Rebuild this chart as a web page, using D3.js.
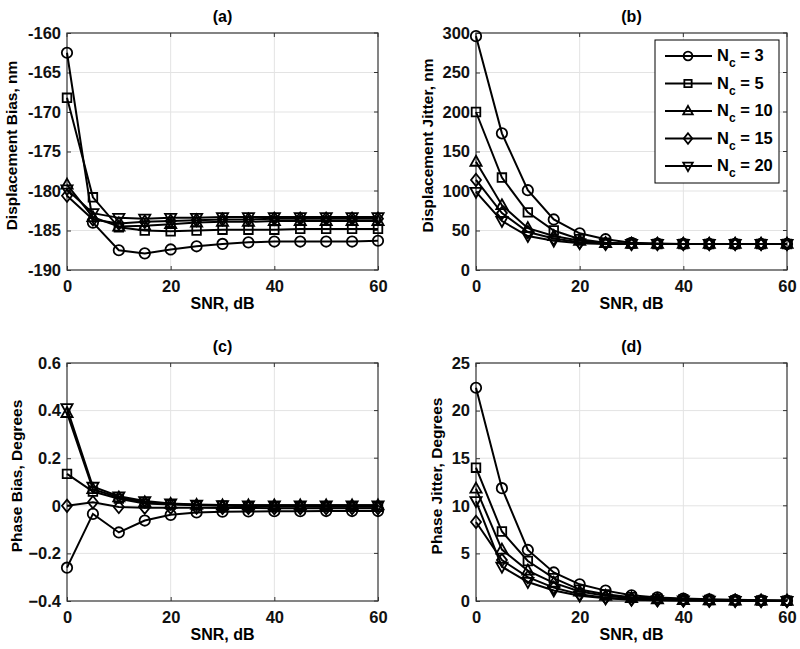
<!DOCTYPE html>
<html><head><meta charset="utf-8">
<script src="https://cdn.jsdelivr.net/npm/d3@7"></script>
<style>body{margin:0;background:#fff}svg{font-family:"Liberation Sans",Arial,sans-serif;font-weight:bold}</style>
</head><body><svg id="c" width="800" height="649"></svg>
<script>
const snr = [0,5,10,15,20,25,30,35,40,45,50,55,60];
const ncLabels = ["3","5","10","15","20"];
const markers = ["circle","square","triangle","diamond","triangleDown"];

const biasDisp = [
 [-162.5,-184.0,-187.5,-187.9,-187.4,-187.0,-186.7,-186.5,-186.4,-186.4,-186.4,-186.4,-186.3],
 [-168.2,-180.8,-184.6,-185.0,-185.1,-185.0,-184.9,-184.9,-184.9,-184.8,-184.8,-184.8,-184.8],
 [-179.2,-183.3,-184.5,-184.4,-184.2,-184.0,-183.9,-183.9,-183.8,-183.8,-183.8,-183.8,-183.8],
 [-180.6,-183.6,-184.1,-183.9,-183.8,-183.7,-183.6,-183.6,-183.5,-183.5,-183.5,-183.5,-183.5],
 [-179.8,-182.8,-183.4,-183.5,-183.4,-183.4,-183.3,-183.3,-183.3,-183.3,-183.3,-183.3,-183.3]
];
const jitterDisp = [
 [296,173,101,64,46.5,39,34.5,33.5,33,33,33,33,33],
 [200,117,73,50,39,34.5,33.5,33,33,33,33,33,33],
 [137,82,53,43,37,34,33,33,33,33,33,33,33],
 [114,72,48,40,35,33.5,33,33,33,33,33,33,33],
 [99,62,43,37,34,33,33,33,33,33,33,33,33]
];
const biasPhase = [
 [-0.26,-0.034,-0.112,-0.062,-0.038,-0.028,-0.025,-0.024,-0.023,-0.023,-0.022,-0.022,-0.022],
 [0.134,0.06,0.03,0.01,0.005,0.002,0.0,-0.002,-0.003,-0.003,-0.004,-0.004,-0.004],
 [0.39,0.07,0.035,0.015,0.008,0.004,0.002,0.002,0.002,0.002,0.002,0.002,0.002],
 [0.0,0.015,-0.005,-0.008,-0.008,-0.008,-0.009,-0.009,-0.01,-0.01,-0.01,-0.01,-0.01],
 [0.41,0.08,0.04,0.02,0.01,0.005,0.003,0.002,0.002,0.002,0.002,0.002,0.002]
];
const jitterPhase = [
 [22.4,11.85,5.36,3.0,1.75,1.09,0.6,0.38,0.25,0.18,0.12,0.08,0.05],
 [14.0,7.3,4.2,2.4,1.2,0.7,0.4,0.25,0.15,0.1,0.07,0.05,0.03],
 [11.8,5.4,3.2,1.9,1.0,0.55,0.3,0.18,0.1,0.07,0.05,0.03,0.02],
 [8.3,4.3,2.5,1.4,0.7,0.35,0.18,0.1,0.06,0.04,0.03,0.02,0.01],
 [10.5,3.6,2.0,1.1,0.55,0.28,0.14,0.08,0.05,0.03,0.02,0.01,0.01]
];

const panels = [
 {title:"(a)", ylabel:"Displacement Bias, nm", data:biasDisp, ydom:[-190,-160], yticks:[-190,-185,-180,-175,-170,-165,-160], fmt:d=>d, x0:67,x1:378,y0:33,y1:270, ylx:12, legend:false},
 {title:"(b)", ylabel:"Displacement Jitter, nm", data:jitterDisp, ydom:[0,300], yticks:[0,50,100,150,200,250,300], fmt:d=>d, x0:476,x1:787,y0:33,y1:270, ylx:428, legend:true},
 {title:"(c)", ylabel:"Phase Bias, Degrees", data:biasPhase, ydom:[-0.4,0.6], yticks:[-0.4,-0.2,0,0.2,0.4,0.6], fmt:d=>d===0?"0":d3.format(".1f")(d), x0:67,x1:378,y0:363,y1:601, ylx:17, legend:false},
 {title:"(d)", ylabel:"Phase Jitter, Degrees", data:jitterPhase, ydom:[0,25], yticks:[0,5,10,15,20,25], fmt:d=>d, x0:476,x1:787,y0:363,y1:601, ylx:437, legend:false}
];

function markerPath(type, sc){
  sc = sc||1;
  const r=5.2*sc;
  switch(type){
    case "circle": return `M${r},0A${r},${r} 0 1,1 ${-r},0A${r},${r} 0 1,1 ${r},0Z`;
    case "square": {const s=4.3*sc; return `M${-s},${-s}H${s}V${s}H${-s}Z`;}
    case "triangle": return `M0,${-6*sc}L${5.6*sc},${4*sc}L${-5.6*sc},${4*sc}Z`;
    case "triangleDown": return `M0,${6*sc}L${5.6*sc},${-4*sc}L${-5.6*sc},${-4*sc}Z`;
    case "diamond": return `M0,${-6.2*sc}L${5*sc},0L0,${6.2*sc}L${-5*sc},0Z`;
  }
}

const svg = d3.select("#c");
panels.forEach(p=>{
  const x = d3.scaleLinear().domain([0,60]).range([p.x0,p.x1]);
  const y = d3.scaleLinear().domain(p.ydom).range([p.y1,p.y0]);
  const g = svg.append("g");
  [20,40].forEach(t=>g.append("line").attr("x1",x(t)).attr("x2",x(t)).attr("y1",p.y0).attr("y2",p.y1).attr("stroke","#e3e3e3").attr("stroke-width",1));
  p.yticks.slice(1,-1).forEach(t=>g.append("line").attr("x1",p.x0).attr("x2",p.x1).attr("y1",y(t)).attr("y2",y(t)).attr("stroke","#e3e3e3").attr("stroke-width",1));
  const ax = d3.axisBottom(x).tickValues([0,20,40,60]).tickSize(-4).tickPadding(10);
  const axg = g.append("g").attr("transform",`translate(0,${p.y1})`).call(ax);
  const ay = d3.axisLeft(y).tickValues(p.yticks).tickFormat(p.fmt).tickSize(-4).tickPadding(6);
  const ayg = g.append("g").attr("transform",`translate(${p.x0},0)`).call(ay);
  [axg,ayg].forEach(a=>{a.select(".domain").remove();a.selectAll("line").attr("stroke","#333");a.selectAll("text").attr("font-size",16.5).attr("font-weight","bold").attr("font-family","Liberation Sans, Arial").attr("fill","#111");});
  [0,20,40,60].forEach(t=>g.append("line").attr("x1",x(t)).attr("x2",x(t)).attr("y1",p.y0).attr("y2",p.y0+4).attr("stroke","#333"));
  p.yticks.forEach(t=>g.append("line").attr("x1",p.x1).attr("x2",p.x1-4).attr("y1",y(t)).attr("y2",y(t)).attr("stroke","#333"));
  g.append("rect").attr("x",p.x0).attr("y",p.y0).attr("width",p.x1-p.x0).attr("height",p.y1-p.y0).attr("fill","none").attr("stroke","#333").attr("stroke-width",1.2);
  const line = d3.line().x((d,i)=>x(snr[i])).y(d=>y(d));
  p.data.forEach((s,k)=>{
    g.append("path").attr("d",line(s)).attr("fill","none").attr("stroke","#000").attr("stroke-width",2);
    g.selectAll(null).data(s).enter().append("path")
      .attr("d",markerPath(markers[k]))
      .attr("transform",(d,i)=>`translate(${x(snr[i])},${y(d)})`)
      .attr("fill","none").attr("stroke","#000").attr("stroke-width",1.8);
  });
  g.append("text").attr("x",(p.x0+p.x1)/2).attr("y",p.y0-11).attr("text-anchor","middle").attr("font-size",16).text(p.title);
  g.append("text").attr("x",(p.x0+p.x1)/2).attr("y",p.y1+39).attr("text-anchor","middle").attr("font-size",16).text("SNR, dB");
  g.append("text").attr("transform",`translate(${p.ylx+5},${(p.y0+p.y1)/2 - 6}) rotate(-90)`).attr("text-anchor","middle").attr("font-size",15.5).text(p.ylabel);
  if(p.legend){
    const lx=655, ly=40, lw=124, lh=143;
    const lg = g.append("g");
    lg.append("rect").attr("x",lx).attr("y",ly).attr("width",lw).attr("height",lh).attr("fill","#fff").attr("stroke","#000").attr("stroke-width",1);
    ncLabels.forEach((n,k)=>{
      const yy = 56+k*27.5;
      lg.append("line").attr("x1",665).attr("x2",712).attr("y1",yy).attr("y2",yy).attr("stroke","#000").attr("stroke-width",2);
      lg.append("path").attr("d",markerPath(markers[k],0.85)).attr("transform",`translate(688,${yy})`).attr("fill","none").attr("stroke","#000").attr("stroke-width",1.8);
      const t = lg.append("text").attr("x",717).attr("y",yy+5).attr("font-size",16.5);
      t.append("tspan").text("N");
      t.append("tspan").attr("font-size",12).attr("dy",6).text("c");
      t.append("tspan").attr("dy",-6).text(" = "+n);
    });
  }
});
</script></body></html>
